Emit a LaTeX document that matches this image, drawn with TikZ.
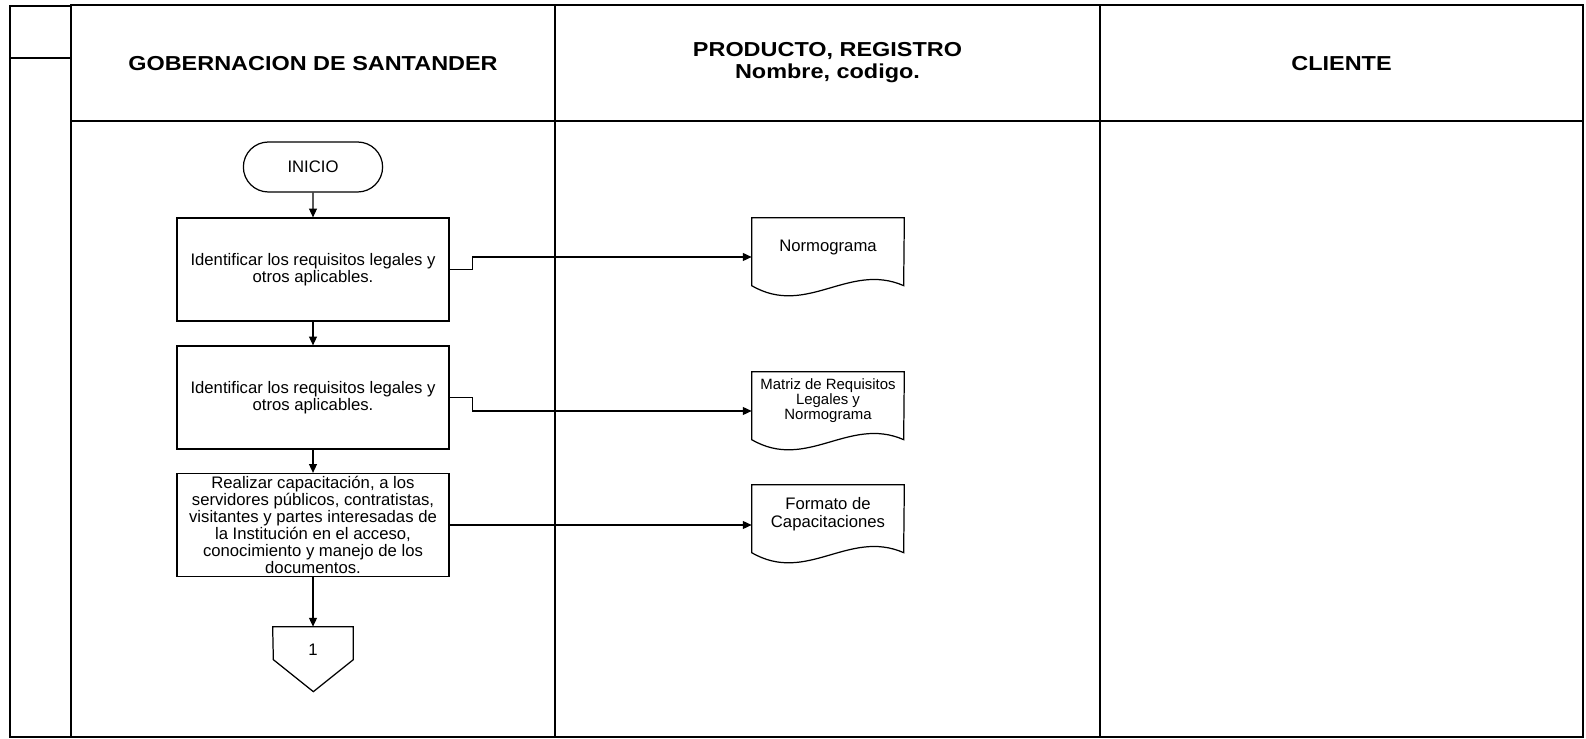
\documentclass[tikz,border=0pt]{standalone}
\usepackage{fontspec}
\setmainfont{Liberation Sans}
\newfontfamily\headfont{Liberation Sans}[FakeStretch=1.16]
\usetikzlibrary{arrows.meta,shapes.misc}

\tikzset{
  lane/.style={draw=black,line width=0.9pt},
  head/.style={align=center,font=\headfont\bfseries\fontsize{11.5}{12.7}\selectfont},
  proc/.style={shape=rectangle,draw=black,line width=0.7pt,minimum width=5.44cm,
    minimum height=2.06cm,align=center,inner sep=0pt,font=\fontsize{9.5}{9.7}\selectfont},
  docu/.style={minimum width=3.04cm,minimum height=1.16cm,align=center,inner sep=0pt,
    font=\fontsize{9.5}{10.2}\selectfont}
}

\begin{document}
\begin{tikzpicture}[x=0.02cm,y=-0.02cm,>={Triangle[length=5pt,width=4.5pt]}]
      \useasboundingbox (0,0) rectangle (1586,739);

      % lanes
      \draw[lane] (71,5) rectangle (1583,737);
      \draw[lane] (71,121) -- (1583,121);
      \draw[lane] (555,5) -- (555,737);
      \draw[lane] (1100,5) -- (1100,737);
      \draw[lane] (71,6) -- (10,6) -- (10,737) -- (71,737);
      \draw[lane] (10,58) -- (71,58);

      \node[head] (hGob) at (313,64) {GOBERNACION DE SANTANDER};
      \node[head] (hProd) at (827.5,62.5) {PRODUCTO, REGISTRO\\Nombre, codigo.};
      \node[head] (hCli) at (1341.5,64) {CLIENTE};

      % flow
      \node[shape=rounded rectangle,draw=black,line width=0.7pt,minimum width=3.02cm,
        minimum height=1cm,font=\fontsize{9.5}{10}\selectfont] (start) at (313,167) {INICIO};
      \node[proc] (boxA) at (313,269.5) {Identificar los requisitos legales y\\otros aplicables.};
      \node[proc] (boxB) at (313,397.5) {Identificar los requisitos legales y\\otros aplicables.};
      \node[proc] (boxC) at (313,525) {Realizar capacitación, a los\\servidores públicos, contratistas,\\visitantes y partes interesadas de\\la Institución en el acceso,\\conocimiento y manejo de los\\documentos.};
      \node[minimum width=1.6cm,minimum height=0.92cm,inner sep=0pt,
        font=\fontsize{9.5}{10}\selectfont] (conA) at (313,650) {1};
      \draw[line width=0.7pt] (conA.north west) -- (conA.north east) -- ++(0,33) -- ++(-40,32) -- ++(-40,-32) -- cycle;

      % documents
      \node[docu] (docA) at (828,247) {Normograma};
      \node[docu,font=\fontsize{8.5}{8.5}\selectfont] (docB) at (828,401) {Matriz de Requisitos\\Legales y\\Normograma};
      \node[docu] (docC) at (828,514) {Formato de\\Capacitaciones};
      \foreach \d in {docA,docB,docC}
        \draw[line width=0.7pt] (\d.north east) -- (\d.north west) -- ++(0,68)
          .. controls +(55,32) and +(-55,-24) .. ++(152,0) -- cycle;

      \draw[->,line width=0.7pt] (start) -- (boxA);
      \draw[->,line width=0.7pt] (boxA) -- (boxB);
      \draw[->,line width=0.7pt] (boxB) -- (boxC);
      \draw[->,line width=0.7pt] (boxC) -- (conA);
      \draw[->,line width=0.7pt] (boxA.east) -- ++(23,0) |- ([yshift=-0.2cm]docA.west);
      \draw[->,line width=0.7pt] (boxB.east) -- ++(23,0) |- ([yshift=-0.2cm]docB.west);
      \draw[->,line width=0.7pt] (boxC.east) -- (boxC.east -| docC.west);
\end{tikzpicture}
\end{document}
